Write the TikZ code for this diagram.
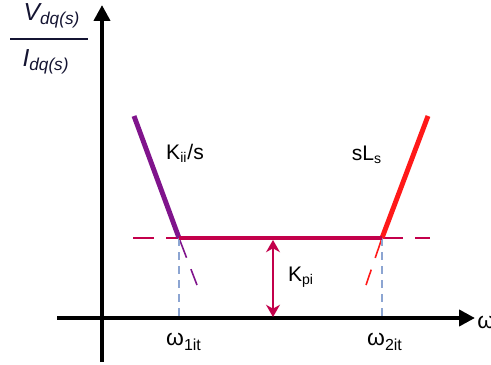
\documentclass[tikz,border=0pt]{standalone}
\usepackage{fontspec}
\setmainfont{Liberation Sans}
\usetikzlibrary{arrows.meta,positioning}
\definecolor{violetln}{RGB}{128,20,140}
\definecolor{crimsonln}{RGB}{195,0,75}
\definecolor{redln}{RGB}{255,25,25}
\definecolor{guideln}{RGB}{140,165,210}
\definecolor{fracink}{RGB}{20,20,50}

\begin{document}
\begin{tikzpicture}[x=0.02cm, y=-0.02cm,
  axis/.style={line width=2.3pt, -{Triangle[length=9pt,width=9pt]}},
  slope/.style={line width=2.8pt},
  ext/.style={line width=0.9pt, dash pattern=on 12pt off 7pt},
  guide/.style={guideln, line width=0.6pt, dash pattern=on 4.5pt off 3.5pt},
  gain/.style={crimsonln, line width=0.6pt, {Stealth[length=7pt,width=8pt]}-{Stealth[length=7pt,width=8pt]}},
  lbl/.style={font=\fontsize{12}{14}\selectfont, inner sep=0pt},
  frac/.style={font=\fontsize{14}{16}\selectfont\itshape, text=fracink, inner sep=0pt}
]
\useasboundingbox (0,0) rectangle (491,365);

% axes
\coordinate (xs) at (57,318);
\coordinate (xe) at (475,318);
\coordinate (ys) at (102,362);
\coordinate (ye) at (102,5);
\draw[axis] (xs) -- (xe);
\draw[axis] (ys) -- (ye);

% corner points and line ends
\coordinate (c1) at (179,238);
\coordinate (c2) at (382,238);
\coordinate (t1) at (134,116);
\coordinate (t2) at (428,116);
\coordinate (d1) at (197,285);
\coordinate (d2) at (366,285);
\coordinate (h1) at (133,238);
\coordinate (h2) at (430,238);
\coordinate (f1) at (179,316);
\coordinate (f2) at (382,316);
\coordinate (ka) at (273,240);
\coordinate (kb) at (273,317);

% dashed extensions
\draw[ext, crimsonln] (h1) -- (c1);
\draw[ext, crimsonln] (c2) -- (h2);
\draw[ext, violetln] (c1) -- (d1);
\draw[ext, redln] (c2) -- (d2);
\draw[guide] (c1) -- (f1);
\draw[guide] (c2) -- (f2);

% asymptotes
\draw[slope, violetln] (t1) -- (c1);
\draw[slope, redln] (t2) -- (c2);
\draw[line width=2.3pt, crimsonln] (c1) -- (c2);
\draw[gain] (ka) -- (kb);

% labels
\node[lbl] (kii) at (185,153) {K\textsubscript{ii}/s};
\node[lbl] (sls) at (367,155) {sL\textsubscript{s}};
\node[lbl] (kpi) at (301,277) {K\textsubscript{pi}};
\node[lbl, font=\fontsize{13}{15}\selectfont] (w1) at (184,342) {ω\textsubscript{1it}};
\node[lbl, font=\fontsize{13}{15}\selectfont] (w2) at (385,342) {ω\textsubscript{2it}};
\node[lbl, font=\fontsize{13}{15}\selectfont, anchor=west] (w) at (477,322) {ω};

% transfer function
\node[frac] (num) at (52,16) {V\textsubscript{dq(s)}};
\node[frac] (den) at (46,62) {I\textsubscript{dq(s)}};
\coordinate (fl) at (10,39);
\coordinate (fr) at (88,39);
\draw[line width=1.5pt, fracink] (fl) -- (fr);
\end{tikzpicture}
\end{document}
